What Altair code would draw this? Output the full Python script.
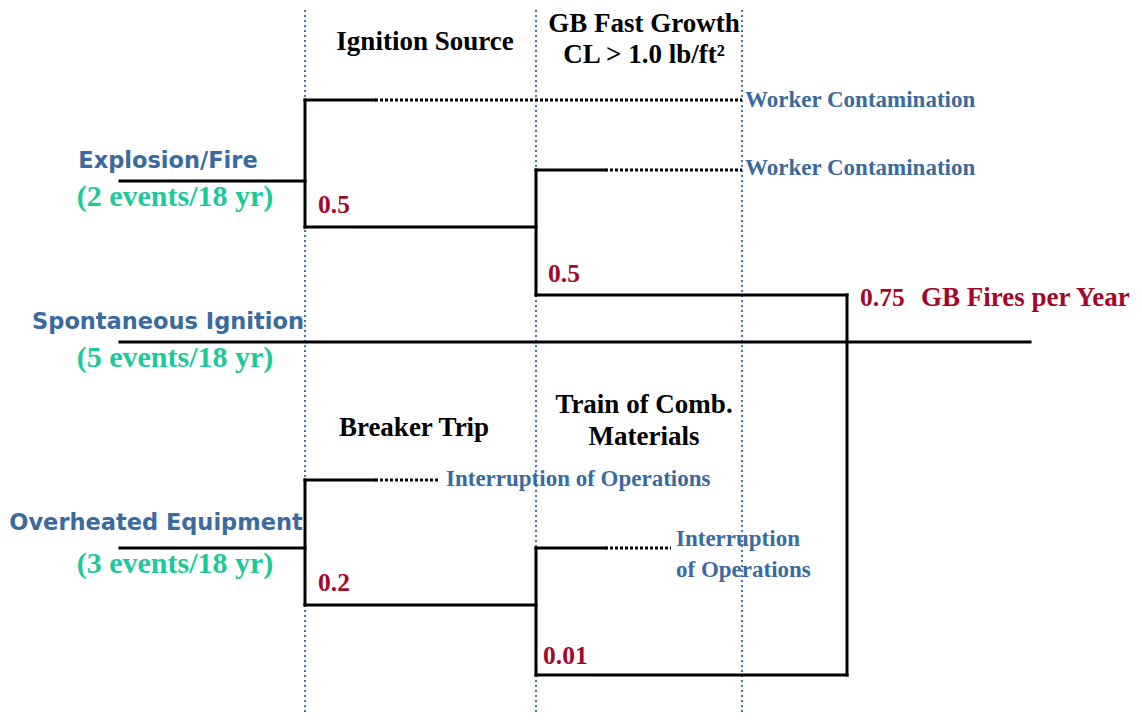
import altair as alt
import pandas as pd

# ---- diagram data (diagram units = reference pixel grid) ----
# solid branch segments: x, x2, y, y2
solid_x1 = [120, 305, 305, 305, 536, 536, 536, 120, 847, 120, 305, 305, 305, 536, 536, 536]
solid_x2 = [305, 305, 375, 536, 536, 605, 847, 1030, 847, 305, 305, 375, 536, 536, 605, 847]
solid_y1 = [181, 100, 100, 227, 170, 170, 295, 342, 295, 548, 480, 480, 605, 548, 548, 675]
solid_y2 = [181, 227, 100, 227, 295, 170, 295, 342, 675, 548, 605, 480, 605, 675, 548, 675]

# dotted continuation segments
dot_x1 = [375, 605, 375, 605]
dot_x2 = [742, 742, 440, 671]
dot_y = [100, 170, 480, 548]

# column separators
sep_x = [305, 536, 742]

# headers
head_text = ["Ignition Source", "GB Fast Growth", "CL > 1.0 lb/ft\u00b2", "Breaker Trip", "Train of Comb.", "Materials"]
head_x = [425, 644, 644, 414, 644, 644]
head_y = [42, 24, 55, 428, 405, 437]

# initiating events
init_text = ["Explosion/Fire", "Spontaneous Ignition", "Overheated Equipment"]
init_x = [168, 168, 156]
init_y = [161, 322, 523]

freq_text = ["(2 events/18 yr)", "(5 events/18 yr)", "(3 events/18 yr)"]
freq_x = [175, 175, 175]
freq_y = [197, 358, 564]

# branch probabilities
prob_text = ["0.5", "0.5", "0.2", "0.01", "0.75"]
prob_x = [318, 548, 318, 543, 860]
prob_y = [205, 274, 583, 656, 298]

# result label
result_text = ["GB Fires per Year"]
result_x = [921]
result_y = [298]

# outcomes
out_text = ["Worker Contamination", "Worker Contamination", "Interruption of Operations", "Interruption", "of Operations"]
out_x = [745, 745, 446, 676, 676]
out_y = [100, 168, 479, 539, 570]

W, H = 1126, 705
xs = alt.Scale(domain=[8, 8 + W], nice=False, zero=False)
ys = alt.Scale(domain=[8, 8 + H], nice=False, zero=False, reverse=True)
X = lambda f: alt.X(f, type="quantitative", scale=xs, axis=None)
Y = lambda f: alt.Y(f, type="quantitative", scale=ys, axis=None)

seps = pd.DataFrame({"x": sep_x, "y": [5] * 3, "y2": [740] * 3})
sep_layer = alt.Chart(seps).mark_rule(color="#3f74b3", strokeWidth=2, strokeDash=[2, 3]).encode(
    x=X("x"), y=Y("y"), y2="y2")

solid = pd.DataFrame({"x": solid_x1, "x2": solid_x2, "y": solid_y1, "y2": solid_y2})
solid_layer = alt.Chart(solid).mark_rule(color="black", strokeWidth=3, strokeCap="square").encode(
    x=X("x"), x2="x2", y=Y("y"), y2="y2")

dots = pd.DataFrame({"x": dot_x1, "x2": dot_x2, "y": dot_y})
dot_layer = alt.Chart(dots).mark_rule(color="black", strokeWidth=3, strokeDash=[3, 2]).encode(
    x=X("x"), x2="x2", y=Y("y"))

def text_layer(texts, xs_, ys_, align, font, size, color, weight="bold"):
    df = pd.DataFrame({"t": texts, "x": xs_, "y": ys_})
    return alt.Chart(df).mark_text(align=align, baseline="middle", font=font, fontSize=size,
                                   fontWeight=weight, color=color).encode(
        x=X("x"), y=Y("y"), text="t")

serif = "Liberation Serif"
layers = [
    sep_layer, dot_layer, solid_layer,
    text_layer(head_text, head_x, head_y, "center", serif, 27, "black"),
    text_layer(init_text, init_x, init_y, "center", "DejaVu Sans", 22.5, "#3a6a9e"),
    text_layer(freq_text, freq_x, freq_y, "center", serif, 30, "#1cc99a"),
    text_layer(prob_text, prob_x, prob_y, "left", serif, 25.5, "#a3072a"),
    text_layer(result_text, result_x, result_y, "left", serif, 27, "#a3072a"),
    text_layer(out_text, out_x, out_y, "left", serif, 23, "#3a6a9e"),
]

chart = alt.layer(*layers).properties(
    width=W, height=H, padding=0, autosize=alt.AutoSizeParams(type="none")
).configure_view(stroke=None)

chart.save("out.html", embed_options={"renderer": "svg", "actions": False})
